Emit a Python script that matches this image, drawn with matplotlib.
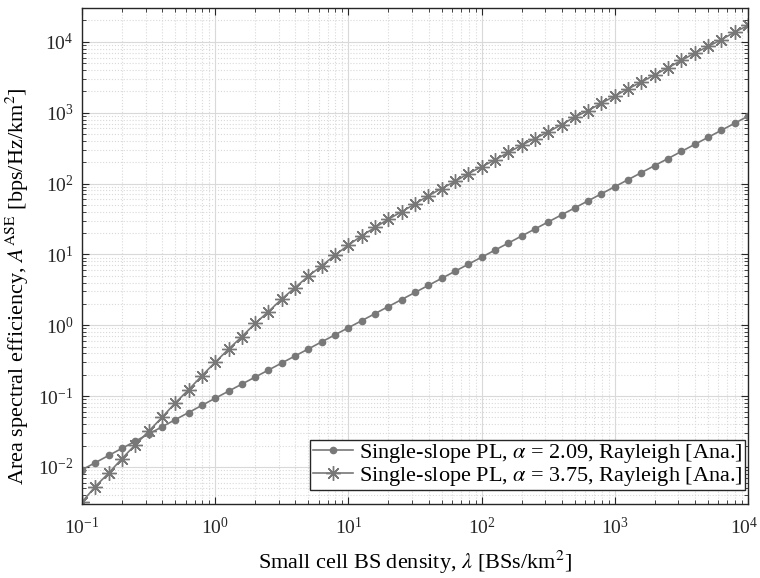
import numpy as np
import matplotlib
matplotlib.use('Agg')
import matplotlib.pyplot as plt
from matplotlib.transforms import ScaledTranslation

# BS density [BSs/km^2], 10 points per decade
density = [0.1, 0.1259, 0.1585, 0.1995, 0.2512, 0.3162, 0.3981, 0.5012, 0.6310, 0.7943,
           1.0, 1.259, 1.585, 1.995, 2.512, 3.162, 3.981, 5.012, 6.310, 7.943,
           10.0, 12.59, 15.85, 19.95, 25.12, 31.62, 39.81, 50.12, 63.10, 79.43,
           100.0, 125.9, 158.5, 199.5, 251.2, 316.2, 398.1, 501.2, 631.0, 794.3,
           1000.0, 1259.0, 1585.0, 1995.0, 2512.0, 3162.0, 3981.0, 5012.0, 6310.0, 7943.0,
           10000.0]

# ASE, alpha = 2.09
ase_209 = [0.00912, 0.01151, 0.01452, 0.01832, 0.02312, 0.02917, 0.03681, 0.04645, 0.05861, 0.07396,
           0.0933, 0.1173, 0.1476, 0.1855, 0.2333, 0.2934, 0.3690, 0.4638, 0.5834, 0.7335,
           0.9226, 1.160, 1.459, 1.835, 2.307, 2.901, 3.648, 4.587, 5.768, 7.253,
           9.120, 11.47, 14.42, 18.14, 22.80, 28.68, 36.06, 45.34, 57.02, 71.70,
           90.16, 113.4, 142.6, 179.3, 225.4, 283.5, 356.5, 448.3, 563.6, 708.8,
           891.3]

# ASE, alpha = 3.75
ase_375 = [0.0032, 0.0053, 0.0082, 0.0131, 0.0206, 0.0318, 0.050, 0.080, 0.123, 0.194,
           0.30, 0.46, 0.69, 1.06, 1.56, 2.35, 3.4, 4.95, 6.9, 9.8,
           13.5, 18.3, 24.0, 31.4, 40.0, 51.5, 67.0, 85.0, 107.0, 138.0,
           172.0, 215.0, 274.0, 347.0, 431.0, 535.0, 677.0, 870.0, 1070.0, 1365.0,
           1717.0, 2180.0, 2700.0, 3430.0, 4300.0, 5460.0, 6920.0, 8590.0, 10700.0, 13700.0,
           17000.0]

labels = [r'Single-slope PL, $\alpha$ = 2.09, Rayleigh [Ana.]',
          r'Single-slope PL, $\alpha$ = 3.75, Rayleigh [Ana.]']

x_ticks = [0.1, 1, 10, 100, 1000, 10000]

plt.rcParams['font.family'] = ['Liberation Serif', 'DejaVu Serif']
plt.rcParams['mathtext.fontset'] = 'stix'

line_col = (0.47, 0.47, 0.47)

fig = plt.figure(figsize=(7.6, 5.78), dpi=100)
ax = fig.add_axes([0.1079, 0.1280, 0.8763, 0.8582])

ax.loglog(density, ase_209, '-', color=line_col, lw=1.2, marker='o',
          markersize=4.5, markerfacecolor=line_col, markeredgecolor=line_col, label=labels[0])
ax.loglog(density, ase_375, '-', color=line_col, lw=1.2, marker=(8, 2, 0),
          markersize=10.5, markeredgewidth=1.0, markeredgecolor=line_col, label=labels[1])

ax.set_xlim(0.1, 1e4)
ax.set_ylim(3e-3, 3e4)
ax.set_xticks(x_ticks)

ax.grid(True, which='major', color='#d9d9d9', linestyle='-', lw=0.8)
ax.grid(True, which='minor', color='#d9d9d9', linestyle=':', lw=0.8)
ax.set_axisbelow(True)

ax.tick_params(which='both', direction='in', top=True, right=True, labelsize=14, colors='#262626')
ax.tick_params(axis='x', which='major', pad=9)
ax.tick_params(axis='y', which='major', pad=6)
ax.tick_params(which='major', length=5)
ax.tick_params(which='minor', length=3)
for s in ax.spines.values():
    s.set_color('#262626')
    s.set_linewidth(1.0)

ax.set_xlabel(r'Small cell BS density, $\lambda$ [BSs/km$^2$]', fontsize=16, labelpad=8)
ax.set_ylabel(r'Area spectral efficiency, $A^{\rm ASE}$ [bps/Hz/km$^2$]', fontsize=16)
ax.yaxis.set_label_coords(-0.077, 0.44)

leg = ax.legend(loc='lower right', bbox_to_anchor=(0.9955, 0.028), fontsize=16,
                fancybox=False, framealpha=1, edgecolor='#262626', borderaxespad=0.0,
                handlelength=1.8, handletextpad=0.3, borderpad=0.1, labelspacing=0.0)
leg.get_frame().set_linewidth(1.0)

# keep the last x tick label inside the figure
last = ax.xaxis.get_major_ticks()[-1].label1
last.set_transform(last.get_transform() + ScaledTranslation(-4 / 100, 0, fig.dpi_scale_trans))

plt.savefig('out.png', dpi=100)
